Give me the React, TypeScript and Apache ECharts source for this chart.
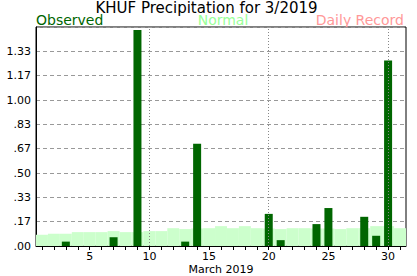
import React, { useEffect, useRef } from "react";
import * as echarts from "echarts";

const days: string[] = Array.from({ length: 31 }, (_, i) => String(i + 1));
const observed: number[] = [
  0, 0, 0.03, 0, 0, 0, 0.06, 0, 1.48, 0,
  0, 0, 0.03, 0.70, 0, 0, 0, 0, 0, 0.22,
  0.04, 0, 0, 0.15, 0.26, 0, 0, 0.20, 0.07, 1.27,
  0,
];
const normal: number[] = [
  0.077, 0.084, 0.084, 0.095, 0.095, 0.095, 0.102, 0.095, 0.095, 0.102,
  0.102, 0.122, 0.116, 0.12, 0.122, 0.136, 0.122, 0.136, 0.122, 0.12,
  0.116, 0.122, 0.122, 0.12, 0.12, 0.116, 0.122, 0.122, 0.136, 0.136,
  0.122,
];
const markedDays: string[] = ["10", "20", "30"];
const titleText = "KHUF Precipitation for 3/2019";
const legendObserved = "Observed";
const legendNormal = "Normal";
const legendRecord = "Daily Record";
const xName = "March 2019";

const FONT = "DejaVu Sans";

export default function App() {
  const ref = useRef<HTMLDivElement>(null);
  useEffect(() => {
    if (!ref.current) return;
    const chart = echarts.init(ref.current, undefined, { renderer: "svg" });
    chart.setOption({
      animation: false,
      backgroundColor: "#ffffff",
      textStyle: { fontFamily: FONT },
      grid: {
        left: 36,
        top: 27,
        width: 370,
        height: 219,
        outerBoundsMode: "none",
        containLabel: false,
        show: true,
        borderColor: "#000",
        borderWidth: 1,
        backgroundColor: "transparent",
      },
      graphic: [
        {
          type: "text",
          x: 206.5,
          y: 8,
          style: {
            text: titleText,
            fill: "#000",
            font: `15px "${FONT}"`,
            align: "center",
            verticalAlign: "middle",
          },
        },
        {
          type: "text",
          x: 36,
          y: 19.5,
          style: {
            text: legendObserved,
            fill: "#006600",
            font: `14px "${FONT}"`,
            align: "left",
            verticalAlign: "middle",
          },
        },
        {
          type: "text",
          x: 223,
          y: 19.5,
          style: {
            text: legendNormal,
            fill: "#99ff99",
            font: `14px "${FONT}"`,
            align: "center",
            verticalAlign: "middle",
          },
        },
        {
          type: "text",
          x: 404,
          y: 19.5,
          style: {
            text: legendRecord,
            fill: "#ff9999",
            font: `14px "${FONT}"`,
            align: "right",
            verticalAlign: "middle",
          },
        },
      ],
      xAxis: [
        {
          type: "category",
          data: days,
          boundaryGap: true,
          name: xName,
          nameLocation: "middle",
          nameGap: 18,
          nameMoveOverlap: false,
          nameTextStyle: { color: "#000", fontSize: 11, fontFamily: FONT },
          axisLine: { show: true, lineStyle: { color: "#000", width: 1 } },
          axisTick: {
            show: true,
            alignWithLabel: true,
            interval: 0,
            length: 4,
            lineStyle: { color: "#000" },
          },
          axisLabel: {
            interval: (idx: number) => (idx + 1) % 5 === 0,
            color: "#000",
            fontSize: 11,
            fontFamily: FONT,
            margin: 5,
          },
          splitLine: { show: false },
        },
        {
          type: "category",
          data: days,
          boundaryGap: true,
          show: false,
          position: "bottom",
        },
      ],
      yAxis: {
        type: "value",
        min: 0,
        max: 1.5,
        interval: 1 / 6,
        axisLine: { show: true, lineStyle: { color: "#000" } },
        axisTick: { show: false },
        axisLabel: {
          showMaxLabel: false,
          color: "#000",
          fontSize: 11,
          fontFamily: FONT,
          margin: 5,
          formatter: (v: number) => {
            const r = Math.round(v * 100) / 100;
            if (r >= 1.5) return "";
            const s = r.toFixed(2);
            return r < 1 ? s.replace(/^0/, "") : s;
          },
        },
        splitLine: {
          show: true,
          lineStyle: { color: "#999", type: [4, 3], width: 1 },
        },
      },
      series: [
        {
          type: "bar",
          name: "Normal",
          xAxisIndex: 1,
          data: normal,
          barWidth: "100%",
          itemStyle: { color: "#ccffcc" },
          z: 1,
          silent: true,
        },
        {
          type: "bar",
          name: "Observed",
          xAxisIndex: 0,
          data: observed,
          barWidth: 8,
          itemStyle: { color: "#006600" },
          z: 2,
          markLine: {
            silent: true,
            symbol: "none",
            label: { show: false },
            lineStyle: { color: "#888", type: [1, 2], width: 1 },
            data: markedDays.map((d) => ({ xAxis: d })),
          },
        },
      ],
    });
    return () => chart.dispose();
  }, []);
  return (
    <div
      ref={ref}
      style={{ position: "fixed", left: 0, top: 0, width: 417, height: 276 }}
    />
  );
}
